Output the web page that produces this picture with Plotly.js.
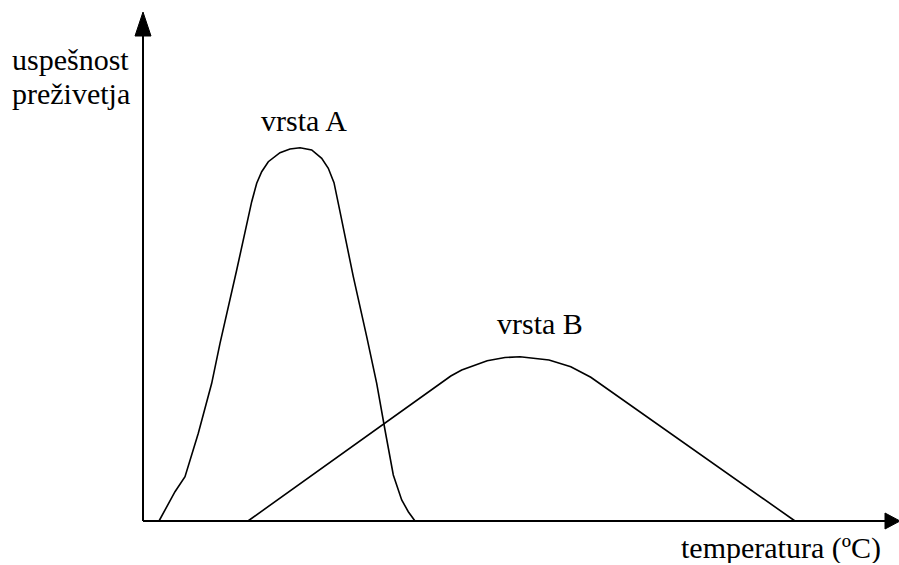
<!DOCTYPE html>
<html>
<head>
<meta charset="utf-8">
<script src="https://cdn.plot.ly/plotly-3.0.1.min.js"></script>
<style>html,body{margin:0;padding:0;background:#fff;}#chart{width:899px;height:565px;}</style>
</head>
<body>
<div id="chart"></div>
<script>
// Species A survival curve (temperature units, survival units)
var tempA = [16, 23.7, 32, 42, 55.3, 68.7, 77, 93.7, 108.7, 113.7, 118.7, 125.3, 137, 147, 157, 168.7, 178.7, 185.3, 191, 197, 210.3, 223.7, 233.7, 242, 247, 250.3, 258.7, 265.3, 272];
var survA = [0, 14.3, 29.3, 44.3, 87.7, 137.7, 177.7, 251, 319.3, 337.7, 349.3, 359.3, 368.3, 372, 373.3, 371, 362.7, 352.7, 338.3, 309.3, 244.3, 184.3, 137.7, 91, 64.3, 46, 21, 9.3, 0];
// Species B survival curve
var tempB = [105, 307.8, 318.7, 344.2, 362, 377, 406, 427.8, 447.8, 652];
var survB = [0, 145, 151, 160.3, 163.5, 164.3, 161, 154.3, 143.7, 0];

var labelA = "vrsta A";
var labelB = "vrsta B";
var xLabel = "temperatura (ºC)";
var yLabelLines = ["uspešnost", "preživetja"];

var lineStyle = {color: "#000", width: 1.6};
var traces = [
  {x: tempA, y: survA, mode: "lines", line: lineStyle, hoverinfo: "skip", name: labelA},
  {x: tempB, y: survB, mode: "lines", line: lineStyle, hoverinfo: "skip", name: labelB}
];

var font = {family: "Liberation Serif", size: 30, color: "#000"};
var layout = {
  width: 899, height: 565,
  margin: {l: 130, r: 0, t: 0, b: 34},
  paper_bgcolor: "#fff", plot_bgcolor: "#fff",
  showlegend: false,
  xaxis: {range: [-13, 756], visible: false, fixedrange: true},
  yaxis: {range: [-10, 521], visible: false, fixedrange: true},
  shapes: [
    {type: "line", x0: 0, y0: 0, x1: 0, y1: 487, line: {color: "#000", width: 2}},
    {type: "line", x0: 0, y0: 0, x1: 744, y1: 0, line: {color: "#000", width: 2}},
    {type: "path", path: "M -8 485 L 8 485 L 0 509 Z", fillcolor: "#000", line: {color: "#000", width: 1}},
    {type: "path", path: "M 742 -8 L 742 8 L 757 0 Z", fillcolor: "#000", line: {color: "#000", width: 1}}
  ],
  annotations: [
    {x: 161, y: 400.5, text: labelA, showarrow: false, font: font, xanchor: "center", yanchor: "middle"},
    {x: 397, y: 197.7, text: labelB, showarrow: false, font: font, xanchor: "center", yanchor: "middle"},
    {xref: "paper", yref: "paper", x: 0.8466, y: -0.032, text: xLabel, showarrow: false, font: font, xanchor: "center", yanchor: "middle", height: 30},
    {xref: "paper", yref: "paper", x: -0.0777, y: 0.8879, text: yLabelLines[0], showarrow: false, font: font, xanchor: "center", yanchor: "middle"},
    {xref: "paper", yref: "paper", x: -0.0767, y: 0.8239, text: yLabelLines[1], showarrow: false, font: font, xanchor: "center", yanchor: "middle"}
  ]
};
Plotly.newPlot("chart", traces, layout, {staticPlot: true, displayModeBar: false});
</script>
</body>
</html>
